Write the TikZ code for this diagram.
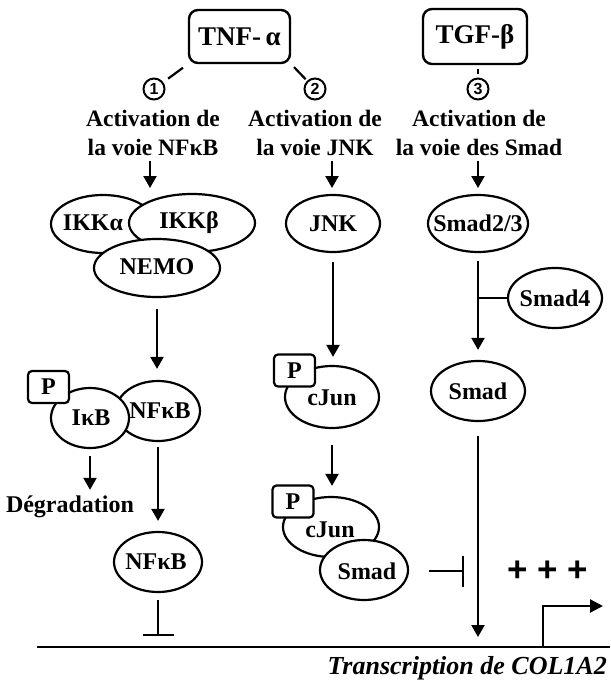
\documentclass[tikz,border=0pt]{standalone}
\usepackage{fontspec}
\setmainfont{Liberation Serif}
\newfontfamily\plusfont{Liberation Sans}
\usetikzlibrary{shapes.geometric,arrows.meta}
\newcommand{\mkell}[6]{%
  \node[ell, minimum width=#3pt, minimum height=#4pt] (#1) at (#2) {};
  \node[lab] (#1-t) at ([shift={(#5)}]#1.center) {#6};}
\begin{document}
\begin{tikzpicture}[x=1pt,y=-1pt,
  lab/.style={font=\fontsize{24}{28}\selectfont\bfseries, inner sep=0pt},
  ell/.style={draw, ellipse, fill=white, line width=2.2pt, inner sep=0pt},
  pbox/.style={draw, rounded corners=4pt, fill=white, line width=2.2pt, minimum width=41pt, minimum height=32pt, inner sep=0pt, font=\fontsize{24}{28}\selectfont\bfseries},
  sbox/.style={draw, rounded corners=9pt, line width=2.4pt, inner sep=0pt, font=\fontsize{27}{32}\selectfont\bfseries},
  num/.style={draw, circle, line width=2pt, minimum size=21pt, inner sep=0pt, font=\plusfont\fontsize{16}{16}\selectfont\bfseries},
  act/.style={align=center, inner sep=0pt, font=\fontsize{23.5}{29}\selectfont\bfseries},
  ln/.style={line width=2.2pt},
  arr/.style={line width=2.2pt, -{Triangle[length=12pt,width=13pt]}},
  inh/.style={line width=2.2pt, -{Bar[width=31pt,line width=2.2pt]}},
]
\useasboundingbox (0,0) rectangle (610,682);
% receptors
\node[sbox, minimum width=101pt, minimum height=53pt] (tnf) at (239.5,36.5) {TNF-\,α};
\node[sbox, minimum width=104pt, minimum height=55pt] (tgf) at (475,36.5) {TGF-β};
\node[num] (n1) at (154,89) {1};
\node[num] (n2) at (315,89) {2};
\node[num] (n3) at (478,89) {3};
\draw[ln, shorten <=6pt, shorten >=6pt] (tnf.south west) -- (n1);
\draw[ln, shorten <=4pt, shorten >=2pt] (tnf.south east) -- (n2);
\draw[ln, shorten <=4pt, shorten >=3pt] (tgf.south -| n3) -- (n3);
% pathway titles
\node[act] (act1) at (153,132.5) {Activation de\\la voie NFκB};
\node[act] (act2) at (315,132.5) {Activation de\\la voie JNK};
\node[act] (act3) at (479,132.5) {Activation de\\la voie des Smad};
\coordinate (t1) at (150,188);
\coordinate (t2) at (332,188);
\coordinate (t3) at (478,188);
\draw[arr, shorten <=6pt] (act1.south -| t1) -- (t1);
\draw[arr, shorten <=6pt] (act2.south -| t2) -- (t2);
\draw[arr, shorten <=6pt] (act3.south -| t3) -- (t3);
% proteins
\mkell{ikka}{103,224}{104}{58}{-10,-1}{IKKα}
\mkell{ikkb}{192,223}{126}{58}{-3,0}{IKKβ}
\mkell{nemo}{157,268}{126}{58}{0,-1}{NEMO}
\mkell{jnk}{333,223.5}{94}{57}{0,0}{JNK}
\mkell{smadtt}{478,223.5}{100}{57}{0,0}{Smad2/3}
\mkell{smadf}{555,298}{94}{60}{0,0}{Smad4}
\mkell{smad}{478,391}{94}{60}{0,0}{Smad}
\mkell{nfkba}{158,411}{84}{60}{2,0}{NFκB}
\mkell{ikb}{90,418}{78}{60}{1,0}{IκB}
\node[pbox] (p1) at (48.5,387) {P};
\mkell{cjuna}{332,397}{94}{62}{0,1}{cJun}
\node[pbox] (p2) at (294.5,370.5) {P};
\mkell{nfkbb}{158,562}{88}{60}{-2,0}{NFκB}
\mkell{cjunb}{331,527}{96}{60}{-1,3}{cJun}
\mkell{smadc}{364,570}{88}{60}{3,1}{Smad}
\node[pbox] (p3) at (293,501.5) {P};
\node[lab] (degr) at (70,507) {Dégradation};
% connectors
\draw[arr, shorten <=11pt, shorten >=11pt] (nemo.south) -- (nemo.south |- nfkba.north);
\draw[arr, shorten <=9pt, shorten >=8pt] (jnk.south) -- (jnk.south |- cjuna.north);
\draw[arr, shorten <=8pt, shorten >=10pt] (smadtt.south) -- (smadtt.south |- smad.north);
\draw[ln] (smadf.west) -- (smadf.west -| smadtt.south);
\draw[arr, shorten <=7pt, shorten >=6pt] (ikb.south) -- (ikb.south |- degr.north);
\draw[arr, shorten <=5pt, shorten >=10pt] (nfkba.south) -- (nfkba.south |- nfkbb.north);
\draw[arr, shorten <=16pt, shorten >=10pt] (cjuna.south) -- (cjuna.south |- cjunb.north);
% DNA
\coordinate (dnaL) at (37,647);
\coordinate (dnaR) at (610,647);
\draw[line width=2.8pt] (dnaL) -- (dnaR);
\coordinate (inhA) at (158,636);
\draw[inh, shorten <=7pt] (nfkbb.south) -- (inhA);
\coordinate (inhB) at (464,571);
\draw[inh, shorten <=20pt] (smadc.east |- inhB) -- (inhB);
\draw[arr, shorten <=14pt, shorten >=10pt] (smad.south) -- (smad.south |- dnaL);
\coordinate (tss) at (543,646);
\coordinate (tssE) at (603,606);
\draw[ln, -{Triangle[length=13pt,width=13pt]}] (tss) |- (tssE);
\node[font=\plusfont\fontsize{35}{35}\selectfont\bfseries, inner sep=0pt] (plus) at (548,571) {+ + +};
\node[anchor=base east, font=\fontsize{26}{30}\selectfont\bfseries\itshape, inner sep=0pt] (tr) at (607,674) {Transcription de COL1A2};
\end{tikzpicture}
\end{document}
